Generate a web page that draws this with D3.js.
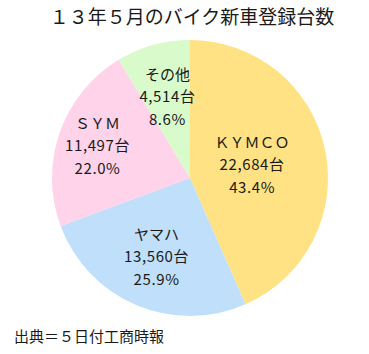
<!DOCTYPE html>
<html>
<head>
<meta charset="utf-8">
<script src="https://cdn.jsdelivr.net/npm/d3@7"></script>
<style>
  body { margin: 0; background: #fff; }
  text { font-family: "Noto Sans CJK JP", "Noto Sans", sans-serif; fill: #1a1a1a; }
</style>
</head>
<body>
<svg id="chart" width="369" height="354"></svg>
<script>
const makers = ["ＫＹＭＣＯ", "ヤマハ", "ＳＹＭ", "その他"];
const units = [22684, 13560, 11497, 4514];
const colors = ["#ffe283", "#bfdffb", "#ffd3ea", "#d9fbcb"];
// label distance from centre, as a share of the radius
const labelRadius = [0.46, 0.62, 0.71, 0.61];

const svg = d3.select("#chart");
const cx = 190, cy = 178, r = 138;

svg.append("text")
  .attr("x", 192)
  .attr("y", 24)
  .attr("text-anchor", "middle")
  .style("font-size", "19px")
  .text("１３年５月のバイク新車登録台数");

const total = d3.sum(units);
const data = makers.map((name, i) => ({ name, value: units[i], color: colors[i], k: labelRadius[i] }));

const pie = d3.pie().value(d => d.value).sort(null);
const arc = d3.arc().innerRadius(0).outerRadius(r);

const g = svg.append("g").attr("transform", `translate(${cx},${cy})`);
const arcs = pie(data);

g.selectAll("path")
  .data(arcs)
  .join("path")
  .attr("d", arc)
  .attr("fill", d => d.data.color);

const fmt = d3.format(",");
arcs.forEach(a => {
  const mid = (a.startAngle + a.endAngle) / 2;
  const lr = r * a.data.k;
  const x = Math.sin(mid) * lr;
  const y = -Math.cos(mid) * lr;
  const lines = [a.data.name, fmt(a.data.value) + "台", (a.data.value / total * 100).toFixed(1) + "%"];
  const t = g.append("text")
    .attr("text-anchor", "middle")
    .attr("x", x)
    .attr("y", y - 22 + 5)
    .style("font-size", "15px");
  t.selectAll("tspan")
    .data(lines)
    .join("tspan")
    .attr("x", x)
    .attr("dy", (d, i) => i === 0 ? 0 : 22.5)
    .style("letter-spacing", (d, i) => i === 0 ? "0px" : "0.6px")
    .text(d => d);
});

svg.append("text")
  .attr("x", 14)
  .attr("y", 342)
  .style("font-size", "15px")
  .text("出典＝５日付工商時報");
</script>
</body>
</html>
